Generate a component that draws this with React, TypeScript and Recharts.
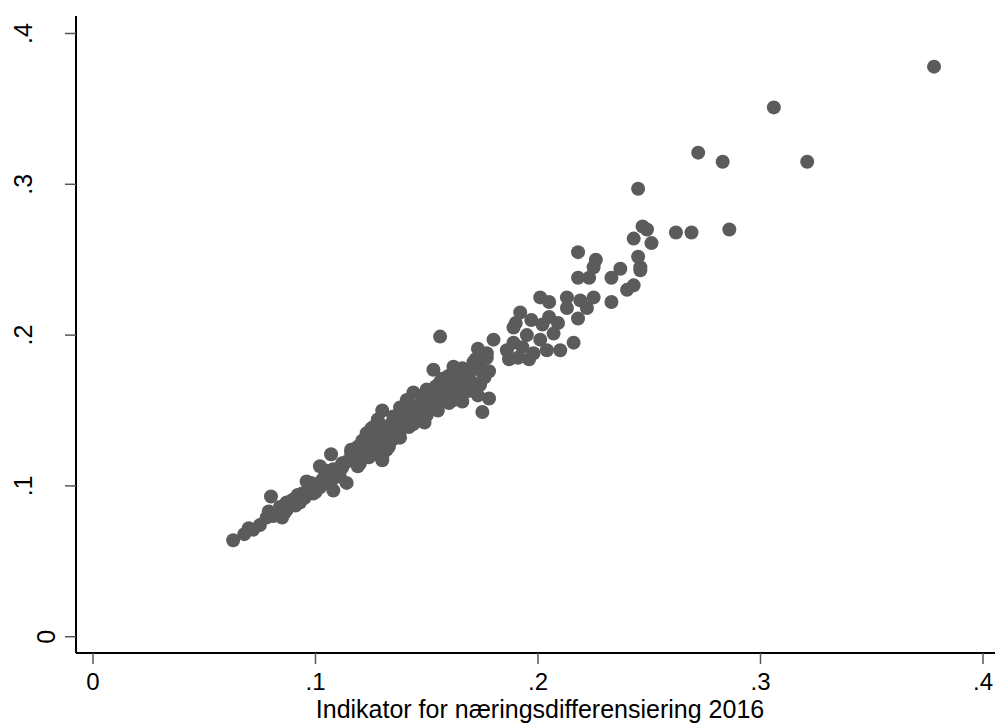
import React from "react";
import { ScatterChart, Scatter, XAxis, YAxis } from "recharts";

// x = Indikator for næringsdifferensiering 2016, y = same indicator (other year)
const lowerX = [0.063, 0.070, 0.072, 0.075, 0.080, 0.078, 0.083, 0.087, 0.085, 0.090, 0.087, 0.093, 0.096, 0.101, 0.102, 0.107, 0.099, 0.105, 0.108, 0.111, 0.114, 0.108, 0.112, 0.116, 0.120, 0.119, 0.123, 0.123, 0.126, 0.130, 0.129, 0.134, 0.132, 0.135, 0.068, 0.081, 0.092, 0.097, 0.104, 0.110, 0.117, 0.121, 0.127, 0.131, 0.079, 0.084, 0.086, 0.089, 0.091, 0.094, 0.095, 0.098, 0.100, 0.102, 0.105, 0.107];
const lowerY = [0.064, 0.072, 0.071, 0.074, 0.093, 0.079, 0.082, 0.084, 0.079, 0.091, 0.089, 0.089, 0.103, 0.099, 0.113, 0.121, 0.095, 0.102, 0.111, 0.106, 0.102, 0.097, 0.115, 0.122, 0.115, 0.126, 0.122, 0.135, 0.139, 0.117, 0.128, 0.132, 0.124, 0.139, 0.068, 0.080, 0.094, 0.098, 0.106, 0.110, 0.118, 0.124, 0.126, 0.134, 0.083, 0.086, 0.082, 0.090, 0.087, 0.095, 0.092, 0.102, 0.096, 0.099, 0.110, 0.103];

const coreX = [0.153, 0.162, 0.159, 0.168, 0.178, 0.175, 0.173, 0.166, 0.156, 0.150, 0.144, 0.141, 0.153, 0.159, 0.155, 0.162, 0.148, 0.130, 0.138, 0.128, 0.135, 0.141, 0.149, 0.125, 0.132, 0.138, 0.142, 0.121, 0.129, 0.133, 0.116, 0.125, 0.130, 0.138, 0.142, 0.147, 0.151, 0.156, 0.160, 0.165, 0.169, 0.163, 0.145, 0.138, 0.147, 0.163, 0.169, 0.174, 0.157, 0.150, 0.144, 0.134, 0.128,
  0.100, 0.103, 0.106, 0.109, 0.112, 0.114, 0.118, 0.119, 0.122, 0.124, 0.126, 0.127, 0.129, 0.131, 0.133, 0.135, 0.136, 0.137, 0.139, 0.140, 0.143, 0.144, 0.146, 0.148, 0.149, 0.151, 0.152, 0.154, 0.155, 0.157, 0.158, 0.160, 0.161, 0.164, 0.166, 0.167, 0.170, 0.171, 0.174, 0.176, 0.165, 0.160];
const coreY = [0.177, 0.179, 0.172, 0.172, 0.158, 0.149, 0.160, 0.156, 0.169, 0.164, 0.162, 0.157, 0.159, 0.162, 0.150, 0.157, 0.155, 0.150, 0.152, 0.144, 0.146, 0.146, 0.142, 0.138, 0.139, 0.132, 0.139, 0.130, 0.130, 0.126, 0.124, 0.122, 0.119, 0.144, 0.150, 0.154, 0.157, 0.162, 0.167, 0.170, 0.174, 0.176, 0.144, 0.136, 0.149, 0.162, 0.163, 0.167, 0.156, 0.147, 0.141, 0.135, 0.133,
  0.101, 0.104, 0.108, 0.108, 0.112, 0.116, 0.120, 0.113, 0.127, 0.119, 0.131, 0.121, 0.136, 0.128, 0.140, 0.131, 0.143, 0.138, 0.148, 0.141, 0.147, 0.153, 0.151, 0.160, 0.152, 0.162, 0.153, 0.166, 0.158, 0.171, 0.160, 0.173, 0.165, 0.169, 0.174, 0.165, 0.177, 0.168, 0.180, 0.172, 0.160, 0.155];

const midX = [0.180, 0.173, 0.177, 0.172, 0.166, 0.178, 0.191, 0.198, 0.189, 0.171, 0.177, 0.187, 0.175, 0.216, 0.210, 0.204, 0.189, 0.186, 0.193, 0.196, 0.201, 0.205, 0.219, 0.222, 0.218, 0.213, 0.192, 0.190, 0.197, 0.205, 0.202, 0.209, 0.207, 0.195, 0.201];
const midY = [0.197, 0.191, 0.188, 0.184, 0.178, 0.176, 0.185, 0.188, 0.205, 0.182, 0.185, 0.184, 0.175, 0.195, 0.190, 0.190, 0.195, 0.190, 0.192, 0.184, 0.225, 0.222, 0.223, 0.218, 0.211, 0.218, 0.215, 0.208, 0.210, 0.212, 0.207, 0.208, 0.201, 0.200, 0.197];

const upperX = [0.247, 0.249, 0.243, 0.251, 0.245, 0.246, 0.246, 0.237, 0.233, 0.243, 0.240, 0.218, 0.226, 0.225, 0.218, 0.223, 0.213, 0.225, 0.233];
const upperY = [0.272, 0.270, 0.264, 0.261, 0.252, 0.245, 0.243, 0.244, 0.238, 0.233, 0.230, 0.255, 0.250, 0.245, 0.238, 0.238, 0.225, 0.225, 0.222];

const outlierX = [0.378, 0.306, 0.272, 0.283, 0.321, 0.286, 0.269, 0.262, 0.245, 0.156];
const outlierY = [0.378, 0.351, 0.321, 0.315, 0.315, 0.270, 0.268, 0.268, 0.297, 0.199];

const xTicks = [0, 0.1, 0.2, 0.3, 0.4];
const yTicks = [0, 0.1, 0.2, 0.3, 0.4];
const xTitle = "Indikator for næringsdifferensiering 2016";

const zip = (xs: number[], ys: number[]) => xs.map((x, i) => ({ x, y: ys[i] }));
const points = [
  ...zip(lowerX, lowerY),
  ...zip(coreX, coreY),
  ...zip(midX, midY),
  ...zip(upperX, upperY),
  ...zip(outlierX, outlierY),
];

const FONT = "'Liberation Sans', Arial, sans-serif";
const fmt = (v: number) => (v === 0 ? "0" : "." + Math.round(v * 10));

const XTick = (props: any) => {
  const { x, y, payload } = props;
  return (
    <text x={x} y={y + 24} textAnchor="middle" fontFamily={FONT} fontSize={24} fill="#000">
      {fmt(payload.value)}
    </text>
  );
};

const YTick = (props: any) => {
  const { y, payload } = props;
  // stata puts the "0" label closer to the axis than the others
  const bx = payload.value === 0 ? 55 : 32;
  return (
    <text
      x={bx}
      y={y}
      transform={`rotate(-90 ${bx} ${y})`}
      textAnchor="middle"
      fontFamily={FONT}
      fontSize={25}
      fill="#000"
    >
      {fmt(payload.value)}
    </text>
  );
};

const Dot = (props: any) => <circle cx={props.cx} cy={props.cy} r={7} fill="#5b5b5b" />;

export default function App() {
  return (
    <div style={{ position: "absolute", left: 0, top: 0, width: 995, height: 724, background: "#fff", overflow: "hidden" }}>
      <ScatterChart width={995} height={724} margin={{ top: 16, right: 0, bottom: 0, left: 0 }}>
        <XAxis
          xAxisId="top"
          orientation="top"
          type="number"
          dataKey="x"
          domain={[-0.00764, 0.4054]}
          allowDataOverflow
          height={0}
          tick={false}
          tickLine={false}
          axisLine={{ stroke: "#000", strokeWidth: 2 }}
        />
        <XAxis
          type="number"
          dataKey="x"
          domain={[-0.00764, 0.4054]}
          allowDataOverflow
          ticks={xTicks}
          height={71}
          tickSize={11}
          tickLine={{ stroke: "#555", strokeWidth: 1.5 }}
          axisLine={{ stroke: "#000", strokeWidth: 2 }}
          tick={<XTick />}
          label={() => (
            <text x={540} y={718} textAnchor="middle" fontFamily={FONT} fontSize={25} fill="#000">
              {xTitle}
            </text>
          )}
        />
        <YAxis
          type="number"
          dataKey="y"
          domain={[-0.0108, 0.4116]}
          allowDataOverflow
          ticks={yTicks}
          width={76}
          tickSize={11}
          tickLine={{ stroke: "#555", strokeWidth: 1.5 }}
          axisLine={{ stroke: "#000", strokeWidth: 2 }}
          tick={<YTick />}
        />
        <Scatter data={points} shape={<Dot />} isAnimationActive={false} />
      </ScatterChart>
    </div>
  );
}
